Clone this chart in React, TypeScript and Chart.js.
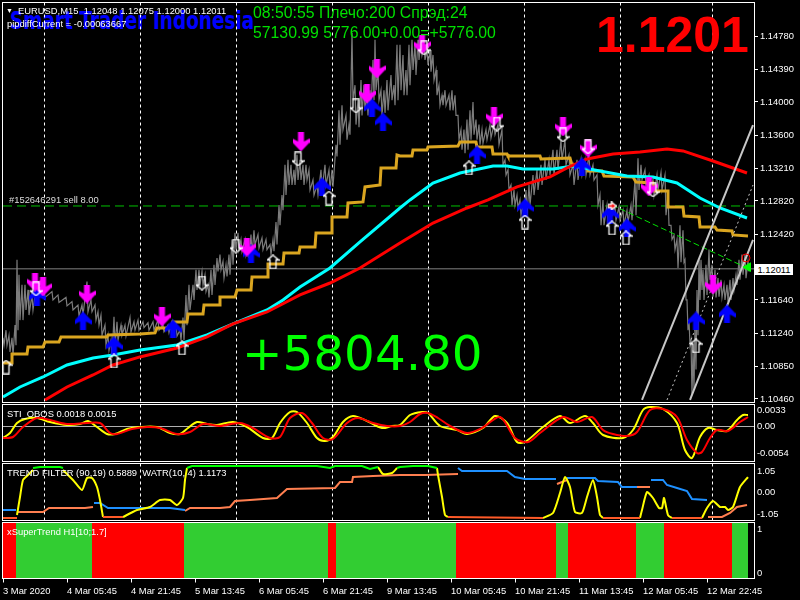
import React, { useEffect, useRef } from "react";
import { Chart, registerables } from "chart.js";

Chart.register(...registerables);

const FONT = "'Liberation Sans', Arial, sans-serif";
const LABEL_SIZE = 9.4;

// ---- shared x axis (1 bar = 1 M15 candle)
const tickBars = [0, 64, 128, 192, 256, 320, 384, 448, 512, 576, 640, 704];
const tickLabels = ["3 Mar 2020", "4 Mar 05:45", "4 Mar 21:45", "5 Mar 13:45", "6 Mar 05:45", "6 Mar 21:45", "9 Mar 13:45", "10 Mar 05:45", "10 Mar 21:45", "11 Mar 13:45", "12 Mar 05:45", "12 Mar 22:45"];
const separatorBars = [41, 137, 233, 329, 425, 521, 617, 709];
const lastBar = 751;

// ---- main pane
const priceTicks = [1.1478, 1.1439, 1.14, 1.136, 1.1321, 1.1282, 1.1242, 1.1164, 1.1124, 1.1085, 1.1046];
const candleBars = [0, 3, 6, 9, 12, 14, 16, 19, 22, 25, 29, 33, 41, 49, 55, 63, 69, 75, 79, 84, 88, 92, 95, 98, 102, 105, 108, 111, 114, 118, 122, 127, 131, 135, 140, 145, 150, 155, 160, 165, 169, 173, 177, 180, 183, 186, 190, 193, 196, 199, 202, 205, 208, 211, 214, 217, 220, 223, 226, 229, 232, 235, 238, 242, 245, 248, 251, 255, 259, 263, 267, 270, 273, 276, 279, 282, 285, 288, 291, 294, 297, 300, 303, 306, 310, 314, 318, 322, 326, 329, 333, 336, 339, 343, 346, 349, 352, 355, 358, 361, 364, 367, 370, 372, 375, 378, 381, 384, 388, 391, 394, 397, 400, 403, 406, 409, 412, 415, 418, 421, 424, 427, 430, 433, 436, 439, 442, 446, 449, 452, 455, 458, 461, 464, 467, 470, 473, 476, 479, 483, 487, 491, 495, 499, 502, 505, 508, 511, 514, 517, 520, 523, 526, 530, 534, 538, 542, 546, 550, 554, 558, 562, 566, 570, 574, 578, 582, 586, 590, 594, 597, 600, 604, 608, 612, 616, 620, 624, 628, 632, 635, 638, 642, 646, 650, 654, 658, 662, 665, 668, 671, 674, 677, 680, 682, 684, 686, 688, 690, 692, 694, 696, 698, 700, 703, 706, 709, 712, 715, 718, 721, 724, 727, 730, 733, 736, 739, 742, 745];
const candleHighs = [1.1119, 1.1128, 1.1122, 1.1119, 1.1134, 1.1212, 1.1194, 1.1182, 1.1182, 1.1176, 1.117, 1.1178, 1.1176, 1.1174, 1.117, 1.1167, 1.1162, 1.1158, 1.1158, 1.1186, 1.1164, 1.1158, 1.115, 1.1146, 1.1134, 1.1122, 1.1116, 1.1144, 1.1138, 1.1134, 1.1134, 1.1143, 1.1138, 1.114, 1.1138, 1.1137, 1.1138, 1.114, 1.1134, 1.1134, 1.1138, 1.1134, 1.1128, 1.1143, 1.117, 1.1182, 1.1182, 1.12, 1.12, 1.1198, 1.1194, 1.1182, 1.12, 1.1206, 1.1214, 1.1218, 1.121, 1.1206, 1.1218, 1.1236, 1.1244, 1.1244, 1.1236, 1.1236, 1.123, 1.1242, 1.1247, 1.1242, 1.1238, 1.1236, 1.123, 1.1236, 1.1257, 1.1277, 1.1289, 1.1325, 1.1331, 1.1325, 1.1319, 1.1337, 1.1331, 1.1325, 1.1325, 1.1319, 1.1307, 1.1301, 1.1319, 1.1325, 1.1319, 1.1319, 1.1349, 1.139, 1.1396, 1.1384, 1.1373, 1.1482, 1.142, 1.1402, 1.1426, 1.142, 1.1408, 1.1414, 1.145, 1.1474, 1.1438, 1.1414, 1.1414, 1.1426, 1.1432, 1.142, 1.1468, 1.1468, 1.1456, 1.1438, 1.1468, 1.1474, 1.1468, 1.1474, 1.1474, 1.1468, 1.1462, 1.1462, 1.1456, 1.1438, 1.142, 1.1408, 1.1414, 1.1408, 1.1414, 1.1408, 1.1384, 1.1367, 1.1367, 1.1379, 1.139, 1.14, 1.1379, 1.1373, 1.1367, 1.1367, 1.1373, 1.1373, 1.1373, 1.1367, 1.1331, 1.1319, 1.1301, 1.1295, 1.1289, 1.1283, 1.1277, 1.1295, 1.1301, 1.1313, 1.1319, 1.1325, 1.1331, 1.1331, 1.1343, 1.1343, 1.1355, 1.1355, 1.1337, 1.1325, 1.1331, 1.1331, 1.1331, 1.1337, 1.1325, 1.1313, 1.1289, 1.1283, 1.1277, 1.1277, 1.1275, 1.1275, 1.1271, 1.1271, 1.1277, 1.1307, 1.1333, 1.1325, 1.1319, 1.1313, 1.1307, 1.1313, 1.1316, 1.1313, 1.1289, 1.1253, 1.1241, 1.1236, 1.1253, 1.1247, 1.1212, 1.1164, 1.114, 1.1116, 1.1104, 1.1134, 1.1176, 1.1212, 1.1212, 1.12, 1.1206, 1.1224, 1.1206, 1.12, 1.119, 1.1188, 1.1182, 1.1182, 1.1188, 1.119, 1.1194, 1.1212, 1.1218, 1.1218, 1.121];
const candleLows = [1.111, 1.111, 1.1102, 1.1098, 1.111, 1.1128, 1.114, 1.114, 1.1152, 1.1146, 1.1152, 1.1164, 1.1167, 1.1164, 1.1161, 1.1157, 1.1152, 1.1145, 1.1146, 1.115, 1.115, 1.114, 1.1134, 1.1122, 1.111, 1.1104, 1.1095, 1.111, 1.1116, 1.1122, 1.1121, 1.1126, 1.1128, 1.1128, 1.1131, 1.1128, 1.1128, 1.1128, 1.1126, 1.1125, 1.1122, 1.1121, 1.1116, 1.1116, 1.1134, 1.1152, 1.1164, 1.1176, 1.1182, 1.1182, 1.1174, 1.1167, 1.117, 1.1182, 1.1198, 1.12, 1.119, 1.1192, 1.1194, 1.1206, 1.1224, 1.1224, 1.1222, 1.1218, 1.1214, 1.1218, 1.123, 1.1226, 1.1224, 1.1224, 1.1218, 1.1222, 1.123, 1.1253, 1.1271, 1.1289, 1.1301, 1.1301, 1.1301, 1.1307, 1.1307, 1.1301, 1.1307, 1.1295, 1.1289, 1.1289, 1.1295, 1.1301, 1.1295, 1.1299, 1.1335, 1.1349, 1.1367, 1.1355, 1.1361, 1.1402, 1.1373, 1.137, 1.1384, 1.139, 1.1384, 1.139, 1.1402, 1.1414, 1.1402, 1.1384, 1.1387, 1.139, 1.1402, 1.1396, 1.1402, 1.1414, 1.1408, 1.1408, 1.142, 1.1438, 1.1432, 1.145, 1.1456, 1.145, 1.1444, 1.1436, 1.1426, 1.1408, 1.1396, 1.1396, 1.1396, 1.139, 1.139, 1.1384, 1.1355, 1.1343, 1.1339, 1.1343, 1.1355, 1.1361, 1.1355, 1.1349, 1.1351, 1.1355, 1.1357, 1.1361, 1.1349, 1.1325, 1.1313, 1.1295, 1.1277, 1.1277, 1.1273, 1.1265, 1.1263, 1.1265, 1.1277, 1.1289, 1.1295, 1.1301, 1.1307, 1.1313, 1.1313, 1.1319, 1.1331, 1.1325, 1.1313, 1.1301, 1.1307, 1.1313, 1.1313, 1.1313, 1.1307, 1.1277, 1.1253, 1.1253, 1.1257, 1.1265, 1.1259, 1.1259, 1.1253, 1.1257, 1.1259, 1.1265, 1.1295, 1.1307, 1.1301, 1.1295, 1.1289, 1.1295, 1.1295, 1.1265, 1.1253, 1.1236, 1.1224, 1.1202, 1.1209, 1.1209, 1.1164, 1.1128, 1.111, 1.1051, 1.1057, 1.1081, 1.1122, 1.1164, 1.1176, 1.1164, 1.117, 1.1188, 1.1168, 1.1167, 1.1168, 1.1167, 1.1164, 1.1162, 1.1164, 1.1176, 1.1182, 1.1188, 1.1194, 1.119, 1.1198];

const goldBars = [0, 9, 9, 24, 25, 40, 42, 56, 58, 104, 105, 137, 152, 154, 169, 170, 184, 185, 200, 201, 216, 217, 232, 234, 248, 249, 265, 265, 280, 281, 296, 297, 312, 313, 329, 329, 344, 345, 360, 362, 377, 378, 393, 394, 397, 409, 410, 424, 425, 455, 457, 473, 474, 489, 490, 504, 505, 537, 538, 567, 569, 584, 585, 599, 601, 630, 633, 650, 652, 665, 665, 680, 681, 696, 697, 712, 714, 729, 730, 745];
const goldValues = [1.10889, 1.10889, 1.10996, 1.10996, 1.1108, 1.1108, 1.11139, 1.11139, 1.11199, 1.11199, 1.11223, 1.11235, 1.11247, 1.11307, 1.11307, 1.11378, 1.11378, 1.11473, 1.11473, 1.1158, 1.1158, 1.11676, 1.11676, 1.11759, 1.11759, 1.11914, 1.11914, 1.12069, 1.12069, 1.122, 1.122, 1.12271, 1.12271, 1.12438, 1.12438, 1.12629, 1.12629, 1.12796, 1.12808, 1.12987, 1.1301, 1.13213, 1.13213, 1.13368, 1.13356, 1.13356, 1.13427, 1.13427, 1.13463, 1.13475, 1.13523, 1.13523, 1.13463, 1.13463, 1.1338, 1.1338, 1.13356, 1.13356, 1.1332, 1.13332, 1.13249, 1.13249, 1.13177, 1.13177, 1.13118, 1.13106, 1.13046, 1.13034, 1.12939, 1.12939, 1.12748, 1.12748, 1.12641, 1.12629, 1.1251, 1.1251, 1.12474, 1.12462, 1.12415, 1.12403];

const cyanBars = [0, 17, 40, 64, 90, 110, 137, 174, 204, 230, 264, 280, 297, 327, 357, 397, 407, 430, 457, 490, 504, 520, 550, 570, 597, 624, 650, 674, 697, 717, 744];
const cyanValues = [1.10484, 1.10603, 1.10722, 1.10865, 1.10949, 1.10985, 1.11044, 1.11104, 1.11223, 1.11354, 1.11521, 1.1164, 1.11795, 1.12021, 1.12331, 1.12736, 1.12832, 1.13034, 1.13153, 1.13237, 1.13237, 1.13201, 1.13201, 1.13237, 1.13177, 1.13118, 1.13106, 1.13034, 1.12855, 1.12736, 1.12617];

const redBars = [42, 64, 90, 110, 137, 174, 204, 230, 264, 297, 327, 357, 397, 430, 464, 485, 514, 547, 564, 584, 610, 637, 664, 680, 710, 744];
const redValues = [1.10448, 1.10603, 1.10746, 1.10865, 1.10961, 1.11068, 1.11199, 1.11354, 1.11497, 1.117, 1.11842, 1.12021, 1.12319, 1.12557, 1.12736, 1.12832, 1.12987, 1.13106, 1.13213, 1.1332, 1.1338, 1.13404, 1.13439, 1.13416, 1.13296, 1.13153];

const magentaBars = [32, 40, 84, 159, 244, 298, 364, 374, 419, 491, 560, 585, 646, 710];
const magentaValues = [1.11854, 1.11795, 1.11711, 1.11437, 1.12271, 1.13523, 1.14095, 1.14393, 1.14679, 1.13821, 1.13702, 1.13451, 1.12987, 1.11819];
const blueBars = [34, 80, 111, 170, 248, 319, 369, 380, 474, 522, 579, 607, 624, 693, 724];
const blueValues = [1.11676, 1.1139, 1.11092, 1.11294, 1.12188, 1.12987, 1.13928, 1.13761, 1.13368, 1.12736, 1.13225, 1.12653, 1.12498, 1.1139, 1.11473];
const hollowDownBars = [33, 199, 233, 295, 353, 421, 494, 560, 585, 650];
const hollowDownValues = [1.11771, 1.11842, 1.12283, 1.1332, 1.13952, 1.14643, 1.13737, 1.13606, 1.13463, 1.12951];
const hollowUpBars = [3, 111, 179, 270, 326, 466, 522, 609, 623, 693];
const hollowUpValues = [1.10841, 1.10913, 1.11068, 1.12093, 1.12855, 1.13213, 1.12569, 1.12498, 1.12379, 1.11092];

const channelUpperBars = [639, 750];
const channelUpperValues = [1.10448, 1.13725];
const channelLowerBars = [687, 750];
const channelLowerValues = [1.10448, 1.12355];
const channelMiddleBars = [664, 750];
const channelMiddleValues = [1.10448, 1.1301];
const trendBars = [609, 744];
const trendValues = [1.12772, 1.12021];
const sellPrice = 1.1276;
const bidPrice = 1.12011;
const orderMarkBar = 609;
const stopMarkBar = 743;
const stopMarkValue = 1.12141;
const bidMarkBar = 745;

// ---- STI_OBOS pane
const stiTicks = [0.0033, 0, -0.0054];
const stiTickLabels = ["0.0033", "0.00", "-0.0054"];
const stiYellowBars = [0, 7, 14, 22, 34, 47, 64, 77, 85, 94, 104, 112, 124, 137, 154, 167, 177, 185, 194, 204, 214, 230, 244, 260, 269, 277, 287, 294, 304, 314, 322, 330, 340, 350, 364, 379, 389, 397, 407, 419, 425, 437, 454, 464, 480, 492, 504, 514, 522, 540, 557, 567, 582, 590, 600, 620, 630, 640, 647, 660, 674, 682, 689, 697, 705, 714, 724, 734, 740, 745];
const stiYellowValues = [-0.0023, -0.0013, 0.0007, 0.0015, 0.0017, 0.0009, 0.0003, 0.0005, 0.0011, -0.0001, -0.0015, -0.0015, -0.0005, -0.0001, -0.0001, -0.0013, -0.0015, -0.0003, 0.0009, 0.0005, 0.0003, 0.0009, -0.0001, -0.0023, -0.0023, 0.0007, 0.0029, 0.0029, 0.0007, -0.0023, -0.0029, -0.0021, 0.0009, 0.0021, 0.0011, -0.0003, 0.0001, 0.0003, 0.0023, 0.0029, 0.0027, 0.0001, -0.0007, -0.0015, -0.0003, 0.0021, 0.0007, -0.0031, -0.0031, -0.0001, 0.0021, 0.0007, 0.0021, 0.0007, -0.0017, -0.0023, -0.0007, 0.0033, 0.0039, 0.0035, 0.0007, -0.0047, -0.0063, -0.0021, -0.0003, -0.0007, -0.0009, 0.0013, 0.0023, 0.0023];
const stiRedBars = [0, 10, 20, 34, 47, 64, 84, 97, 107, 114, 129, 144, 157, 174, 187, 200, 217, 237, 250, 267, 277, 287, 299, 309, 320, 330, 344, 355, 370, 384, 397, 407, 417, 425, 435, 447, 464, 479, 497, 512, 525, 537, 560, 574, 589, 600, 610, 624, 634, 647, 660, 674, 684, 694, 699, 707, 714, 725, 737, 745];
const stiRedValues = [-0.0023, -0.0021, -0.0001, 0.0017, 0.0013, 0.0005, 0.0007, 0.0007, -0.0013, -0.0015, -0.0005, -0.0001, -0.0003, -0.0015, -0.0011, 0.0005, 0.0001, 0.0007, -0.0003, -0.0023, -0.0021, 0.0017, 0.0027, 0.0007, -0.0023, -0.0025, 0.0007, 0.0017, 0.0007, 0.0001, 0.0001, 0.0009, 0.0025, 0.0027, 0.0017, 0.0001, -0.0013, -0.0003, 0.0019, -0.0023, -0.0031, -0.0013, 0.0019, 0.0009, 0.0019, -0.0007, -0.0015, -0.0019, -0.0011, 0.0033, 0.0035, 0.0019, -0.0027, -0.0053, -0.0051, -0.0023, -0.0007, -0.0009, 0.0009, 0.0019];

// ---- TREND FILTER / WATR pane (null = gap)
const trendTicks = [1.05, 0, -1.05];
const trendTickLabels = ["1.05", "0.00", "-1.05"];
const filterYellowBars = [14, 17, 20, 25, 30, 31, 60, 70, 79, 84, 89, 94, 97, 100, 101, 120, 134, 147, 157, 167, 174, 180, 182, 184, 185, 375, 380, 389, 394, 395, 434, 435, 439, 442, 445, 446, 540, 550, 557, 562, 567, 572, 579, 584, 590, 594, 597, 600, 601, 637, 639, 644, 650, 656, 659, 661, 665, 669, 670, 699, 704, 710, 717, 722, 725, 730, 737, 745];
const filterYellowValues = [-1.098, -0.22, 0.61, 0.854, 1.098, null, 1.098, 0.61, 0.122, 0.708, 0.708, 0.268, -0.366, -1.196, null, -1.196, -0.854, -0.708, -0.366, -0.366, -0.61, -0.268, 0.61, 1.196, null, 1.244, 0.903, 0.952, 1.196, null, 1.196, 0.854, -0.22, -1.098, -1.196, null, -1.244, -1, -0.024, 0.756, 0.268, -0.952, -1, -0.22, 0.61, -0.22, -1.098, -1.244, null, -1.244, -0.854, 0.024, -0.268, -0.756, -0.756, -0.268, -1.098, -1.244, null, -1.244, -0.756, -0.415, -0.708, -0.708, -0.854, -0.708, 0.268, 0.756];
const filterGreenBars = [30, 37, 57, 60, 61, 184, 189, 314, 327, 332, 359, 367, 375, 380, 394, 397, 410, 425, 434];
const filterGreenValues = [1.196, 1.244, 1.244, 1.196, null, 1.196, 1.293, 1.293, 1.196, 1.293, 1.293, 1.147, 1.244, null, 1.196, 1.244, 1.293, 1.293, 1.196];
const filterLowBars = [0, 14, 15, 100, 120, 121, 445, 540, 541, 600, 637, 638, 669, 699];
const filterLowValues = [-1.244, -1.244, null, -1.196, -1.196, null, -1.196, -1.244, null, -1.244, -1.244, null, -1.244, -1.244];
const watrCoralBars = [14, 40, 46, 62, 82, 90, 91, 182, 187, 217, 227, 232, 247, 274, 284, 332, 337, 349, 350, 370, 397, 422, 455, 456, 554, 564, 565, 634, 647, 648, 705, 719, 727, 734, 744];
const watrCoralValues = [-0.952, -0.952, -0.756, -0.756, -0.756, -0.708, null, -0.903, -0.756, -0.756, -0.708, -0.415, -0.366, -0.268, 0.171, 0.22, 0.512, 0.512, 0.756, 0.805, 0.854, 0.854, 0.903, null, 0.415, 0.61, null, 0.268, 0.268, null, -1.196, -1.196, -1, -0.708, -0.61];
const watrBlueBars = [0, 13, 14, 91, 97, 105, 167, 182, 183, 455, 459, 504, 512, 522, 553, 554, 564, 592, 595, 615, 619, 634, 635, 648, 660, 664, 674, 684, 689, 704];
const watrBlueValues = [-0.854, -0.854, null, -0.512, -0.512, -0.756, -0.756, -0.854, null, 1.196, 1.049, 1.049, 0.756, 0.659, 0.659, null, 0.708, 0.708, 0.561, 0.512, 0.268, 0.268, null, 0.61, 0.61, 0.366, 0.22, 0.073, -0.317, -0.366];

// ---- xSuperTrend pane: run boundaries (bar where the state starts/ends, null = gap)
const superRedBars = [0, 13, 13, 89, 89, 181, 181, 325, 325, 333, 333, 453, 453, 553, 553, 565, 565, 633, 633, 661, 661, 729];
const superRedValues = [1.148, 1.148, null, null, 1.148, 1.148, null, null, 1.148, 1.148, null, null, 1.148, 1.148, null, null, 1.148, 1.148, null, null, 1.148, 1.148];
const superGreenBars = [13, 89, 89, 181, 181, 325, 325, 333, 333, 453, 453, 553, 553, 565, 565, 633, 633, 661, 661, 729, 729, 745];
const superGreenValues = [1.148, 1.148, null, null, 1.148, 1.148, null, null, 1.148, 1.148, null, null, 1.148, 1.148, null, null, 1.148, 1.148, null, null, 1.148, 1.148];

const pts = (bars: number[], vals: (number | null)[]) => bars.map((x, i) => ({ x, y: vals[i] }));
const flat = (v: number) => [{ x: 0, y: v }, { x: lastBar, y: v }];
const candleTrace = candleBars.flatMap((x, i) => [{ x, y: candleHighs[i] }, { x: x + 1, y: candleLows[i] }]);

function markCanvas(w: number, h: number, poly: number[][], fill: string | null, stroke: string | null) {
  const c = document.createElement("canvas");
  c.width = w;
  c.height = h;
  const g = c.getContext("2d")!;
  g.beginPath();
  poly.forEach(([x, y], i) => (i ? g.lineTo(x, y) : g.moveTo(x, y)));
  g.closePath();
  if (fill) { g.fillStyle = fill; g.fill(); }
  if (stroke) { g.strokeStyle = stroke; g.lineWidth = 1.3; g.stroke(); }
  return c;
}
const flipY = (poly: number[][], h: number) => poly.map(([x, y]) => [x, h - y]);
const solidDown = [[5.5, 0], [11.5, 0], [11.5, 9], [17, 6], [17, 10], [8.5, 19], [0, 10], [0, 6], [5.5, 9]];
const hollowDown = [[3.5, 0.8], [9.5, 0.8], [9.5, 9.5], [12.2, 9.5], [6.5, 14.2], [0.8, 9.5], [3.5, 9.5]];

const separators = {
  id: "separators",
  beforeDatasetsDraw(chart: any) {
    const { ctx, chartArea: a, scales } = chart;
    ctx.save();
    ctx.strokeStyle = "#ffffff";
    ctx.lineWidth = 1;
    ctx.setLineDash([3, 3]);
    separatorBars.forEach((b) => {
      const x = Math.round(scales.x.getPixelForValue(b)) + 0.5;
      ctx.beginPath();
      ctx.moveTo(x, a.top);
      ctx.lineTo(x, a.bottom);
      ctx.stroke();
    });
    ctx.restore();
  },
};
const frame = {
  id: "frame",
  afterDatasetsDraw(chart: any) {
    const { ctx, chartArea: a } = chart;
    ctx.save();
    ctx.strokeStyle = "#ffffff";
    ctx.lineWidth = 1;
    ctx.strokeRect(a.left - 0.5, a.top, a.right - a.left + 1, a.bottom - a.top);
    ctx.restore();
  },
};

function line(data: any[], color: string, width: number, order: number, extra: any = {}) {
  return { type: "line", data, borderColor: color, backgroundColor: color, borderWidth: width, pointRadius: 0, tension: 0, order, spanGaps: false, ...extra };
}
function marks(data: any[], style: any, order: number, extra: any = {}) {
  return { type: "line", data, showLine: false, pointStyle: style, pointRadius: 8, order, ...extra };
}

const noPadding = (s: any) => { s.paddingLeft = 0; s.paddingRight = 0; s.paddingTop = 0; s.paddingBottom = 0; };

function makeChart(canvas: HTMLCanvasElement, datasets: any[], opts: { min: number; max: number; ticks: number[]; label: (v: number) => string; top: number; bottom: number; showX?: boolean; tickLen: number; labelPad: number }) {
  return new Chart(canvas, {
    type: "line",
    data: { datasets },
    options: {
      animation: false,
      responsive: false,
      devicePixelRatio: 1,
      layout: { autoPadding: false, padding: { left: 3, top: opts.top, right: 0, bottom: opts.bottom } },
      plugins: { legend: { display: false }, tooltip: { enabled: false } },
      scales: {
        x: {
          type: "linear",
          min: 0,
          max: lastBar,
          display: !!opts.showX,
          grid: { drawOnChartArea: false, color: "#ffffff", tickLength: 4 },
          border: { display: false },
          afterBuildTicks: (s: any) => { s.ticks = tickBars.map((value) => ({ value })); },
          afterFit: (s: any) => { noPadding(s); if (opts.showX) s.height = 21.5; },
          ticks: {
            autoSkip: false,
            maxRotation: 0,
            minRotation: 0,
            align: "start",
            padding: 3,
            color: "#ffffff",
            font: { family: FONT, size: LABEL_SIZE },
            callback: (v: any) => tickLabels[tickBars.indexOf(v)] ?? "",
          },
        },
        y: {
          type: "linear",
          position: "right",
          min: opts.min,
          max: opts.max,
          grid: { drawOnChartArea: false, color: "#ffffff", tickLength: opts.tickLen },
          border: { display: false },
          afterBuildTicks: (s: any) => { s.ticks = opts.ticks.map((value) => ({ value })); },
          afterFit: (s: any) => { noPadding(s); s.width = 46; },
          ticks: { autoSkip: false, padding: opts.labelPad, color: "#ffffff", font: { family: FONT, size: LABEL_SIZE }, callback: (v: any) => opts.label(v) },
        },
      },
    } as any,
    plugins: [separators, frame] as any,
  } as any);
}

const texts: [string, number, number, any][] = [
  ["▼", 6, 7, { color: "#fff", fontSize: 7, fontFamily: FONT }],
  ["EURUSD,M15  1.12048 1.12075 1.12000 1.12011", 18, 6, { color: "#fff", fontSize: LABEL_SIZE, fontFamily: FONT }],
  ["pipdiffCurrent = -0.00063667", 7, 19, { color: "#fff", fontSize: LABEL_SIZE, fontFamily: FONT }],
  ["08:50:55 Плечо:200 Спрэд:24", 253, 5, { color: "#00e000", fontSize: 15.8, fontFamily: FONT }],
  ["57130.99 5776.00+0.00=+5776.00", 253, 25, { color: "#00e000", fontSize: 15.8, fontFamily: FONT }],
  ["1.1201", 596, 10, { color: "#ff0000", fontSize: 50, fontWeight: 700, fontFamily: FONT }],
  ["+5804.80", 242, 329, { color: "#00ff00", fontSize: 48.4, fontFamily: "'DejaVu Sans'" }],
  ["#152646291 sell 8.00", 9, 195, { color: "#dddddd", fontSize: LABEL_SIZE, fontFamily: FONT }],
  ["STI_OBOS 0.0018 0.0015", 7, 409, { color: "#fff", fontSize: LABEL_SIZE, fontFamily: FONT }],
  ["TREND FILTER (90,19) 0.5889  WATR(10, 4) 1.1173", 7, 468, { color: "#fff", fontSize: LABEL_SIZE, fontFamily: FONT }],
  ["xSuperTrend H1[10;1.7]", 7, 527, { color: "#fff", fontSize: LABEL_SIZE, fontFamily: FONT }],
];

export default function App() {
  const mainRef = useRef<HTMLCanvasElement>(null);
  const stiRef = useRef<HTMLCanvasElement>(null);
  const filterRef = useRef<HTMLCanvasElement>(null);
  const superRef = useRef<HTMLCanvasElement>(null);

  useEffect(() => {
    const magenta = markCanvas(17, 19, solidDown, "#ff00ff", null);
    const blue = markCanvas(17, 19, flipY(solidDown, 19), "#0000ff", null);
    const hDown = markCanvas(13, 15, hollowDown, null, "#ffffff");
    const hUp = markCanvas(13, 15, flipY(hollowDown, 15), null, "#ffffff");
    const orderMark = markCanvas(9, 9, [[0.5, 3], [4, 3], [4, 0.5], [8.5, 4.5], [4, 8.5], [4, 6], [0.5, 6]], "#ff0000", "#ffffff");

    const main = makeChart(mainRef.current!, [
      line(flat(bidPrice), "#808080", 1, 14),
      line(flat(sellPrice), "#00c000", 1, 13, { borderDash: [9, 5] }),
      line(candleTrace, "#7c7c7c", 1.2, 12),
      line(pts(goldBars, goldValues), "#daa520", 3, 9),
      line(pts(cyanBars, cyanValues), "#00ffff", 3, 8),
      line(pts(redBars, redValues), "#ff0000", 3, 7),
      line(pts(channelUpperBars, channelUpperValues), "#c8c8c8", 2, 6),
      line(pts(channelLowerBars, channelLowerValues), "#c8c8c8", 2, 6),
      line(pts(channelMiddleBars, channelMiddleValues), "#c8c8c8", 1, 6, { borderDash: [2, 3] }),
      line(pts(trendBars, trendValues), "#00e000", 1, 6, { borderDash: [6, 3] }),
      marks(pts(blueBars, blueValues), blue, 5),
      marks(pts(magentaBars, magentaValues), magenta, 4),
      marks(pts(hollowDownBars, hollowDownValues), hDown, 3),
      marks(pts(hollowUpBars, hollowUpValues), hUp, 2),
      marks([{ x: orderMarkBar, y: sellPrice }], orderMark, 1),
      marks([{ x: stopMarkBar, y: stopMarkValue }], "circle", 1, { pointRadius: 4, pointBorderColor: "#ff0000", pointBackgroundColor: "transparent", pointBorderWidth: 1 }),
      marks([{ x: bidMarkBar, y: bidPrice + 0.0002 }], "triangle", 1, { pointRadius: 5, pointRotation: -90, pointBorderColor: "#00ff00", pointBackgroundColor: "#00ff00" }),
    ], { min: 1.10418, max: 1.15185, ticks: priceTicks, label: (v) => v.toFixed(5), top: 2.5, bottom: 1.5, tickLen: 4, labelPad: 2 });

    const sti = makeChart(stiRef.current!, [
      line(flat(0), "#b0b0b0", 1, 3),
      line(pts(stiYellowBars, stiYellowValues), "#ffff00", 2, 2, { tension: 0.3 }),
      line(pts(stiRedBars, stiRedValues), "#ff0000", 2, 1, { tension: 0.3 }),
    ], { min: -0.007, max: 0.0044, ticks: stiTicks, label: (v) => stiTickLabels[stiTicks.indexOf(v)] ?? "", top: 0.5, bottom: 1.5, tickLen: 1, labelPad: 2 });

    const filter = makeChart(filterRef.current!, [
      line(pts(watrCoralBars, watrCoralValues), "#ff7f50", 2, 5),
      line(pts(watrBlueBars, watrBlueValues), "#1e90ff", 2, 4),
      line(pts(filterYellowBars, filterYellowValues), "#ffff00", 2, 3, { tension: 0.2 }),
      line(pts(filterGreenBars, filterGreenValues), "#00ff00", 2, 2),
      line(pts(filterLowBars, filterLowValues), "#ff5a28", 2, 1),
    ], { min: -1.366, max: 1.415, ticks: trendTicks, label: (v) => trendTickLabels[trendTicks.indexOf(v)] ?? "", top: 0.5, bottom: 1.5, tickLen: 1, labelPad: 2 });

    const sup = makeChart(superRef.current!, [
      line(pts(superRedBars, superRedValues), "#ff0000", 0, 2, { fill: "start" }),
      line(pts(superGreenBars, superGreenValues), "#32cd32", 0, 1, { fill: "start" }),
    ], { min: -0.125, max: 1.148, ticks: [1, 0], label: (v) => String(v), top: 0.5, bottom: 0, showX: true, tickLen: 1, labelPad: 2 });

    return () => { main.destroy(); sti.destroy(); filter.destroy(); sup.destroy(); };
  }, []);

  const cv = (top: number, h: number, ref: any) => (
    <canvas ref={ref} width={800} height={h} style={{ position: "absolute", left: 0, top, width: 800, height: h, display: "block" }} />
  );

  return (
    <div style={{ position: "fixed", left: 0, top: 0, width: 800, height: 600, background: "#000", overflow: "hidden" }}>
      <span style={{ position: "absolute", left: 10, top: 9, whiteSpace: "pre", lineHeight: 1, color: "#0000ff", fontFamily: "'DejaVu Sans'", fontWeight: 700, fontSize: 24, transform: "scaleX(0.77)", transformOrigin: "0 0" }}>Smart Trader Indonesia</span>
      {cv(0, 404, mainRef)}
      {cv(404, 59, stiRef)}
      {cv(463, 59, filterRef)}
      {cv(522, 78, superRef)}
      {texts.map(([t, x, y, s]) => (
        <span key={t} style={{ position: "absolute", left: x, top: y, whiteSpace: "pre", lineHeight: 1, ...s }}>{t}</span>
      ))}
      <span style={{ position: "absolute", left: 755, top: 264, width: 38, height: 11, background: "#fff", color: "#000", fontFamily: FONT, fontSize: LABEL_SIZE, lineHeight: "11px", textAlign: "center" }}>1.12011</span>
    </div>
  );
}
